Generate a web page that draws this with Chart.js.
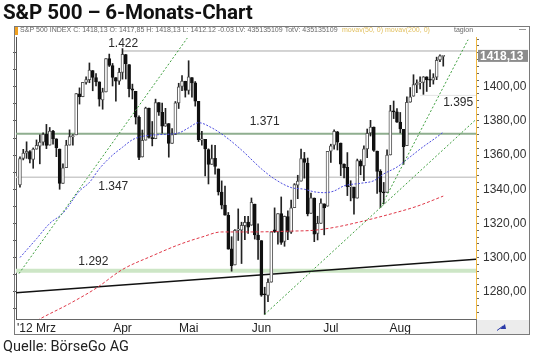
<!DOCTYPE html>
<html><head><meta charset="utf-8">
<script src="https://cdn.jsdelivr.net/npm/chart.js@4.4.0/dist/chart.umd.min.js"></script>
<style>
html,body{margin:0;padding:0;background:#fff;}
body{width:540px;height:360px;position:relative;overflow:hidden;}
#wrap{position:absolute;left:0;top:0;width:540px;height:360px;}
#title{position:absolute;left:3px;top:0px;font:700 20.6px Roboto, sans-serif;color:#111;white-space:nowrap;letter-spacing:-0.1px;}
#src{position:absolute;left:3px;top:338px;font:400 14.5px Roboto, sans-serif;color:#222;white-space:nowrap;}
</style></head><body>
<div id="wrap"><canvas id="c" width="540" height="360"></canvas></div>
<div id="title">S&amp;P 500 – 6-Monats-Chart</div>
<div id="src">Quelle: BörseGo AG</div>
<script>
// ---- data (S&P 500 daily candles, 16.02.2012 - 20.08.2012) ----
const dates = ['16.02','17.02','21.02','22.02','23.02','24.02','27.02','28.02','29.02',
'01.03','02.03','05.03','06.03','07.03','08.03','09.03','12.03','13.03','14.03','15.03','16.03','19.03','20.03','21.03','22.03','23.03','26.03','27.03','28.03','29.03','30.03',
'02.04','03.04','04.04','05.04','09.04','10.04','11.04','12.04','13.04','16.04','17.04','18.04','19.04','20.04','23.04','24.04','25.04','26.04','27.04','30.04',
'01.05','02.05','03.05','04.05','07.05','08.05','09.05','10.05','11.05','14.05','15.05','16.05','17.05','18.05','21.05','22.05','23.05','24.05','25.05','29.05','30.05','31.05',
'01.06','04.06','05.06','06.06','07.06','08.06','11.06','12.06','13.06','14.06','15.06','18.06','19.06','20.06','21.06','22.06','25.06','26.06','27.06','28.06','29.06',
'02.07','03.07','05.07','06.07','09.07','10.07','11.07','12.07','13.07','16.07','17.07','18.07','19.07','20.07','23.07','24.07','25.07','26.07','27.07','30.07','31.07',
'01.08','02.08','03.08','06.08','07.08','08.08','09.08','10.08','13.08','14.08','15.08','16.08','17.08','20.08'];
const open = [1342.6,1358.1,1361.2,1362.1,1357.5,1363.5,1365.2,1367.6,1372.2,
1365.9,1374.1,1369.6,1363.6,1343.4,1352.7,1365.9,1370.8,1371.9,1395.9,1394.2,1402.6,1404.2,1409.6,1405.5,1402.9,1392.3,1397.1,1416.6,1412.5,1405.4,1403.3,
1408.5,1418.9,1413.1,1398.8,1397.4,1382.2,1358.9,1368.8,1387.6,1370.3,1369.6,1390.8,1385.1,1376.9,1378.5,1366.9,1372.1,1390.6,1400.2,1403.3,
1397.9,1405.5,1402.3,1391.5,1368.8,1369.2,1363.2,1354.6,1358.1,1351.9,1338.4,1330.8,1324.8,1305.1,1295.7,1316.1,1316.0,1318.7,1320.8,1318.9,1331.3,1313.1,
1309.9,1278.3,1277.8,1285.6,1316.2,1314.9,1325.7,1309.4,1324.0,1314.9,1329.2,1342.4,1344.8,1358.0,1355.4,1325.9,1334.9,1314.1,1320.0,1331.5,1330.1,
1362.3,1365.8,1373.7,1367.1,1354.7,1352.9,1341.4,1341.3,1334.8,1356.5,1353.7,1363.6,1373.0,1376.5,1362.3,1350.5,1338.4,1338.2,1360.1,1385.9,1385.3,
1379.3,1375.1,1365.5,1391.0,1394.5,1401.1,1402.3,1402.6,1405.9,1404.4,1403.9,1405.6,1415.8,1417.85];
const high = [1359.0,1363.4,1367.8,1362.7,1364.2,1368.9,1371.9,1373.1,1378.0,
1376.2,1374.5,1369.6,1363.6,1354.9,1368.7,1374.8,1372.0,1396.1,1399.4,1402.6,1405.9,1414.0,1409.6,1407.8,1402.9,1399.2,1416.6,1419.2,1413.7,1405.4,1410.9,
1422.4,1419.0,1413.1,1401.6,1397.4,1383.0,1374.7,1388.1,1387.6,1379.7,1392.8,1390.8,1390.5,1387.4,1378.5,1375.6,1391.4,1402.1,1406.6,1403.3,
1415.3,1405.5,1403.1,1391.5,1373.9,1369.2,1363.7,1365.9,1365.7,1351.9,1344.9,1341.8,1326.4,1312.2,1316.4,1328.5,1320.7,1324.1,1324.2,1334.9,1331.3,1319.7,
1309.9,1282.6,1287.6,1315.1,1329.1,1325.8,1335.5,1324.3,1327.3,1333.7,1343.3,1348.2,1363.5,1361.6,1358.3,1337.8,1334.9,1324.2,1334.4,1331.5,1362.2,
1366.4,1374.8,1373.9,1367.1,1354.9,1361.5,1345.0,1341.3,1357.7,1357.3,1365.4,1375.3,1380.4,1376.5,1362.3,1351.5,1344.0,1363.1,1389.2,1391.7,1387.2,
1385.0,1375.1,1394.2,1399.6,1407.1,1404.1,1405.9,1406.0,1405.9,1410.0,1407.7,1417.4,1418.7,1418.13];
const low = [1341.2,1357.2,1358.1,1355.5,1352.3,1363.5,1354.9,1365.9,1363.8,
1365.9,1366.4,1359.1,1340.0,1343.4,1352.7,1365.9,1365.9,1371.9,1389.9,1394.2,1401.5,1402.4,1397.7,1400.6,1388.7,1386.9,1397.1,1411.9,1400.5,1391.6,1401.4,
1404.5,1404.6,1394.1,1392.9,1378.2,1357.4,1358.9,1368.8,1369.9,1365.4,1369.6,1383.3,1372.9,1376.9,1358.8,1366.8,1372.1,1387.3,1397.7,1394.0,
1395.7,1393.9,1388.7,1367.9,1365.9,1347.8,1343.1,1354.6,1348.9,1336.6,1328.5,1324.8,1304.9,1292.0,1295.7,1310.0,1296.5,1310.5,1314.2,1318.9,1310.8,1298.9,
1277.3,1266.7,1274.2,1285.6,1314.7,1307.8,1307.7,1306.6,1310.5,1314.1,1329.2,1334.5,1344.8,1346.5,1324.4,1325.9,1309.3,1310.3,1320.0,1313.3,1330.1,
1355.7,1363.5,1363.0,1348.0,1346.7,1336.3,1333.2,1325.4,1334.8,1348.5,1345.1,1358.5,1371.2,1362.2,1337.6,1329.2,1331.5,1338.2,1360.1,1381.4,1379.2,
1373.0,1354.6,1365.5,1391.0,1394.5,1396.6,1398.8,1395.6,1397.3,1400.1,1401.6,1404.2,1414.7,1412.12];
const close = [1358.0,1361.2,1362.2,1357.7,1363.5,1365.7,1367.6,1372.2,1365.7,
1374.1,1369.6,1364.3,1343.4,1352.6,1365.9,1370.9,1371.1,1396.0,1394.3,1402.6,1404.2,1409.8,1405.5,1402.9,1392.8,1397.1,1416.5,1412.5,1405.5,1403.3,1408.5,
1419.0,1413.4,1399.0,1398.1,1382.2,1358.6,1368.7,1387.6,1370.3,1369.6,1390.8,1385.1,1376.9,1378.5,1366.9,1372.0,1390.7,1400.0,1403.4,1397.9,
1405.8,1402.3,1391.6,1369.1,1369.6,1363.7,1354.6,1358.0,1353.4,1338.4,1330.7,1324.8,1304.9,1295.2,1316.0,1316.6,1318.9,1320.7,1317.8,1332.4,1313.3,1310.3,
1278.0,1278.2,1285.5,1315.1,1315.0,1325.7,1308.9,1324.2,1314.9,1329.1,1342.8,1344.8,1358.0,1355.7,1325.5,1335.0,1313.7,1320.0,1331.9,1329.0,1362.2,
1365.5,1374.0,1367.6,1354.7,1352.5,1341.5,1341.5,1334.8,1356.8,1353.6,1363.7,1372.8,1376.5,1362.7,1350.5,1338.3,1337.9,1360.0,1386.0,1385.3,1379.3,
1375.3,1365.0,1391.0,1394.2,1401.4,1402.2,1402.8,1405.9,1404.1,1403.9,1405.5,1415.5,1418.2,1418.13];

// moving averages (day index, value)
const ma50Idx = [0,5,9,13,18,21,24,28,31,34,37,42,48,51,54,58,62,67,73,77,82,86,89,92,95,98,103,107,110,114,118,122,126,128];
const ma50Val = [1300,1311,1320,1326,1339,1344,1352,1360,1364.6,1369,1371,1372,1373,1376,1379,1376,1371,1363,1352,1346,1341,1340,1338.5,1338,1339,1342,1343.5,1345,1349,1353,1359,1365,1370.5,1373.5];
const ma200Idx = [0,6,15,23,31,40,48,55,61,70,82,89,96,103,113,120,128];
const ma200Val = [1257,1264,1273,1282,1293,1301,1307.5,1312,1315,1315,1315.5,1316,1318,1321,1326,1330,1336];

// drawn chart lines: [index, price] endpoints
const greenTrends = [[[-0.3,1290.6],[50.6,1428.6]], [[74,1266.7],[137.9,1380.9]], [[109,1329.2],[135.5,1427.6]]];
const blackTrend = [[-1.2,1279.4],[137.9,1299.0]];
const levelValues = [1421, 1372.5, 1347, 1292.3, 1395];
const levelFrom = [31, -1.2, -1.2, -1.2, 121];
const levelLabels = ['1.422','1.371','1.347','1.292','1.395'];
const levelLabelAt = [[31.2,1425],[74,1379.3],[28.2,1341.6],[22.2,1297.6],[132.5,1391]];

// axis ticks
const monthIdx = [9,31,51,73,94,115];
const monthLabels = ["'12 Mrz        ",'Apr','Mai','Jun','Jul','Aug'];
const yMin = 1264, yMax = 1429.2, xMin = -1.2, xMax = 137.9;
const lastPrice = 1418.13;
const headerInfo = 'S&P 500 INDEX C: 1418,13 O: 1417,85 H: 1418,13 L: 1412.12 -0.03 LV: 435135109 TotV: 435135109';
const headerMA = 'movav(50, 0) movav(200, 0)';
const headerRight = 'tagion';

// ---- build datasets ----
const levelStyles = [
  {c:'#a8a8a8', w:1}, {c:'#8fae8f', w:2}, {c:'#cccccc', w:1.5}, {c:'#cde6c6', w:4}, {c:'#e4e4e4', w:1}
];
const datasets = [];
levelValues.forEach((v,i)=>{
  datasets.push({type:'line', data:[{x:levelFrom[i], y:v},{x:xMax, y:v}], borderColor:levelStyles[i].c,
    borderWidth:levelStyles[i].w, pointRadius:0, order:6, yAxisID:'y'});
});
datasets.push({type:'line', data:blackTrend.map(p=>({x:p[0],y:p[1]})), borderColor:'#111', borderWidth:1.5, pointRadius:0, order:5, yAxisID:'y'});
datasets.push({type:'bar', data: low.map((l,i)=>({x:i, y:[l, high[i]]})), backgroundColor:'#222', barThickness:1,
  grouped:false, order:4, yAxisID:'y', borderWidth:0});
datasets.push({type:'bar', data: open.map((o,i)=>({x:i, y:[o, close[i]]})),
  backgroundColor: ctx => (close[ctx.dataIndex] >= open[ctx.dataIndex] ? '#ffffff' : '#111111'),
  borderColor: ctx => (close[ctx.dataIndex] >= open[ctx.dataIndex] ? '#555555' : '#111111'),
  borderWidth:1, borderSkipped:false, barThickness:3, minBarLength:1, grouped:false, order:3, yAxisID:'y'});
datasets.push({type:'line', data: ma50Idx.map((x,i)=>({x, y:ma50Val[i]})), borderColor:'#4d4de0', borderWidth:1,
  borderDash:[2,1.5], pointRadius:0, tension:0.4, cubicInterpolationMode:'monotone', order:2, yAxisID:'y'});
datasets.push({type:'line', data: ma200Idx.map((x,i)=>({x, y:ma200Val[i]})), borderColor:'#e03848', borderWidth:1,
  borderDash:[3,2], pointRadius:0, tension:0.4, cubicInterpolationMode:'monotone', order:2, yAxisID:'y'});
greenTrends.forEach(t=>{
  datasets.push({type:'line', data:t.map(p=>({x:p[0],y:p[1]})), borderColor:'#3f9f3f', borderWidth:1,
    borderDash:[2,2], pointRadius:0, order:1, yAxisID:'y'});
});

const deco = {
  id:'deco',
  beforeDraw(chart){
    const c = chart.ctx; c.save(); c.fillStyle='#fff'; c.fillRect(0,0,chart.width,chart.height); c.restore();
  },
  afterDraw(chart){
    const c = chart.ctx, ys = chart.scales.y, xs = chart.scales.x, a = chart.chartArea;
    c.save();
    // level labels
    c.fillStyle = '#2a2a2a'; c.font = '12px Arial'; c.textAlign='center'; c.textBaseline='middle';
    levelLabels.forEach((t,i)=>{ c.fillText(t, xs.getPixelForValue(levelLabelAt[i][0]), ys.getPixelForValue(levelLabelAt[i][1])); });
    // frame
    c.strokeStyle = '#7a7a7a'; c.lineWidth = 1;
    c.strokeRect(14.5, 26.5, 515, 308);
    // bottom right box
    c.fillStyle = '#ececec'; c.fillRect(477, 320, 52, 14);
    c.beginPath(); c.moveTo(476.5, a.bottom); c.lineTo(476.5, 334); c.stroke();
    c.fillStyle = '#2a3aa8'; c.beginPath(); c.moveTo(500,329); c.lineTo(505,324); c.lineTo(506,329); c.closePath(); c.fill();
    c.strokeStyle='#2a3aa8'; c.beginPath(); c.moveTo(497,330.5); c.lineTo(503,326); c.stroke();
    // last price box
    const py = ys.getPixelForValue(lastPrice);
    c.fillStyle = '#8c8c8c'; c.fillRect(478, py-6, 50, 12);
    c.fillStyle = '#fff'; c.font = 'bold 12px Arial'; c.textAlign='left';
    c.fillText(lastPrice.toFixed(2).replace('.',','), 480, py+0.5);
    // header
    c.fillStyle = '#f0a020'; c.fillRect(15, 27, 3, 8);
    c.font = '10px Arial'; const w = c.measureText(headerInfo).width; const fs = 10*318/w;
    c.font = fs.toFixed(2)+'px Arial'; c.fillStyle = '#6a6a6a'; c.textAlign='left'; c.textBaseline='middle';
    c.fillText(headerInfo, 20, 30.5);
    c.fillStyle = '#e2c060'; c.fillText(headerMA, 342, 30.5);
    c.fillStyle = '#6a6a6a'; c.fillText(headerRight, 454, 30.5);
    c.strokeStyle='#999'; c.beginPath(); c.moveTo(519,29.5); c.lineTo(526,29.5); c.stroke();
    c.restore();
  }
};

new Chart(document.getElementById('c'), {
  type:'bar',
  data:{ datasets },
  options:{
    responsive:false, animation:false,
    layout:{ padding:{ left:14, right:11, top:37, bottom:26 } },
    plugins:{ legend:{display:false}, tooltip:{enabled:false} },
    scales:{
      x:{ type:'linear', min:xMin, max:xMax, offset:false,
        grid:{ drawOnChartArea:false, drawTicks:false, offset:false },
        border:{ color:'#666', width:1 },
        afterBuildTicks: ax => { ax.ticks = monthIdx.map(v=>({value:v})); },
        afterFit: s => { s.height = 15; },
        ticks:{ autoSkip:false, maxRotation:0, minRotation:0, padding:2, color:'#222', font:{ family:'Arial', size:12 },
          callback: v => { const k = monthIdx.indexOf(v); return k>=0 ? monthLabels[k] : ''; } }
      },
      y:{ type:'linear', position:'right', min:yMin, max:yMax,
        grid:{ drawOnChartArea:false, tickLength:3, tickColor:'#666' },
        border:{ color:'#f0b840', dash:[2,2], width:1 },
        afterBuildTicks: ax => { const t=[]; for(let v=1268; v<=1428; v+=4) t.push({value:v}); ax.ticks=t; },
        afterFit: s => { s.width = 53; },
        ticks:{ autoSkip:false, padding:4, color:'#333', font:{ family:'Arial', size:12 },
          callback: v => (v%20===0 && v<1415) ? v.toFixed(2).replace('.',',') : '' }
      },
      yl:{ type:'linear', position:'left', min:yMin, max:yMax,
        grid:{ drawOnChartArea:false, tickLength:3, tickColor:'#555' },
        border:{ color:'#555', width:1 },
        afterBuildTicks: ax => { const t=[]; for(let v=1270; v<=1420; v+=10) t.push({value:v}); ax.ticks=t; },
        afterFit: s => { s.width = 2; },
        ticks:{ display:false }
      }
    }
  },
  plugins:[deco]
});
</script>
</body></html>
